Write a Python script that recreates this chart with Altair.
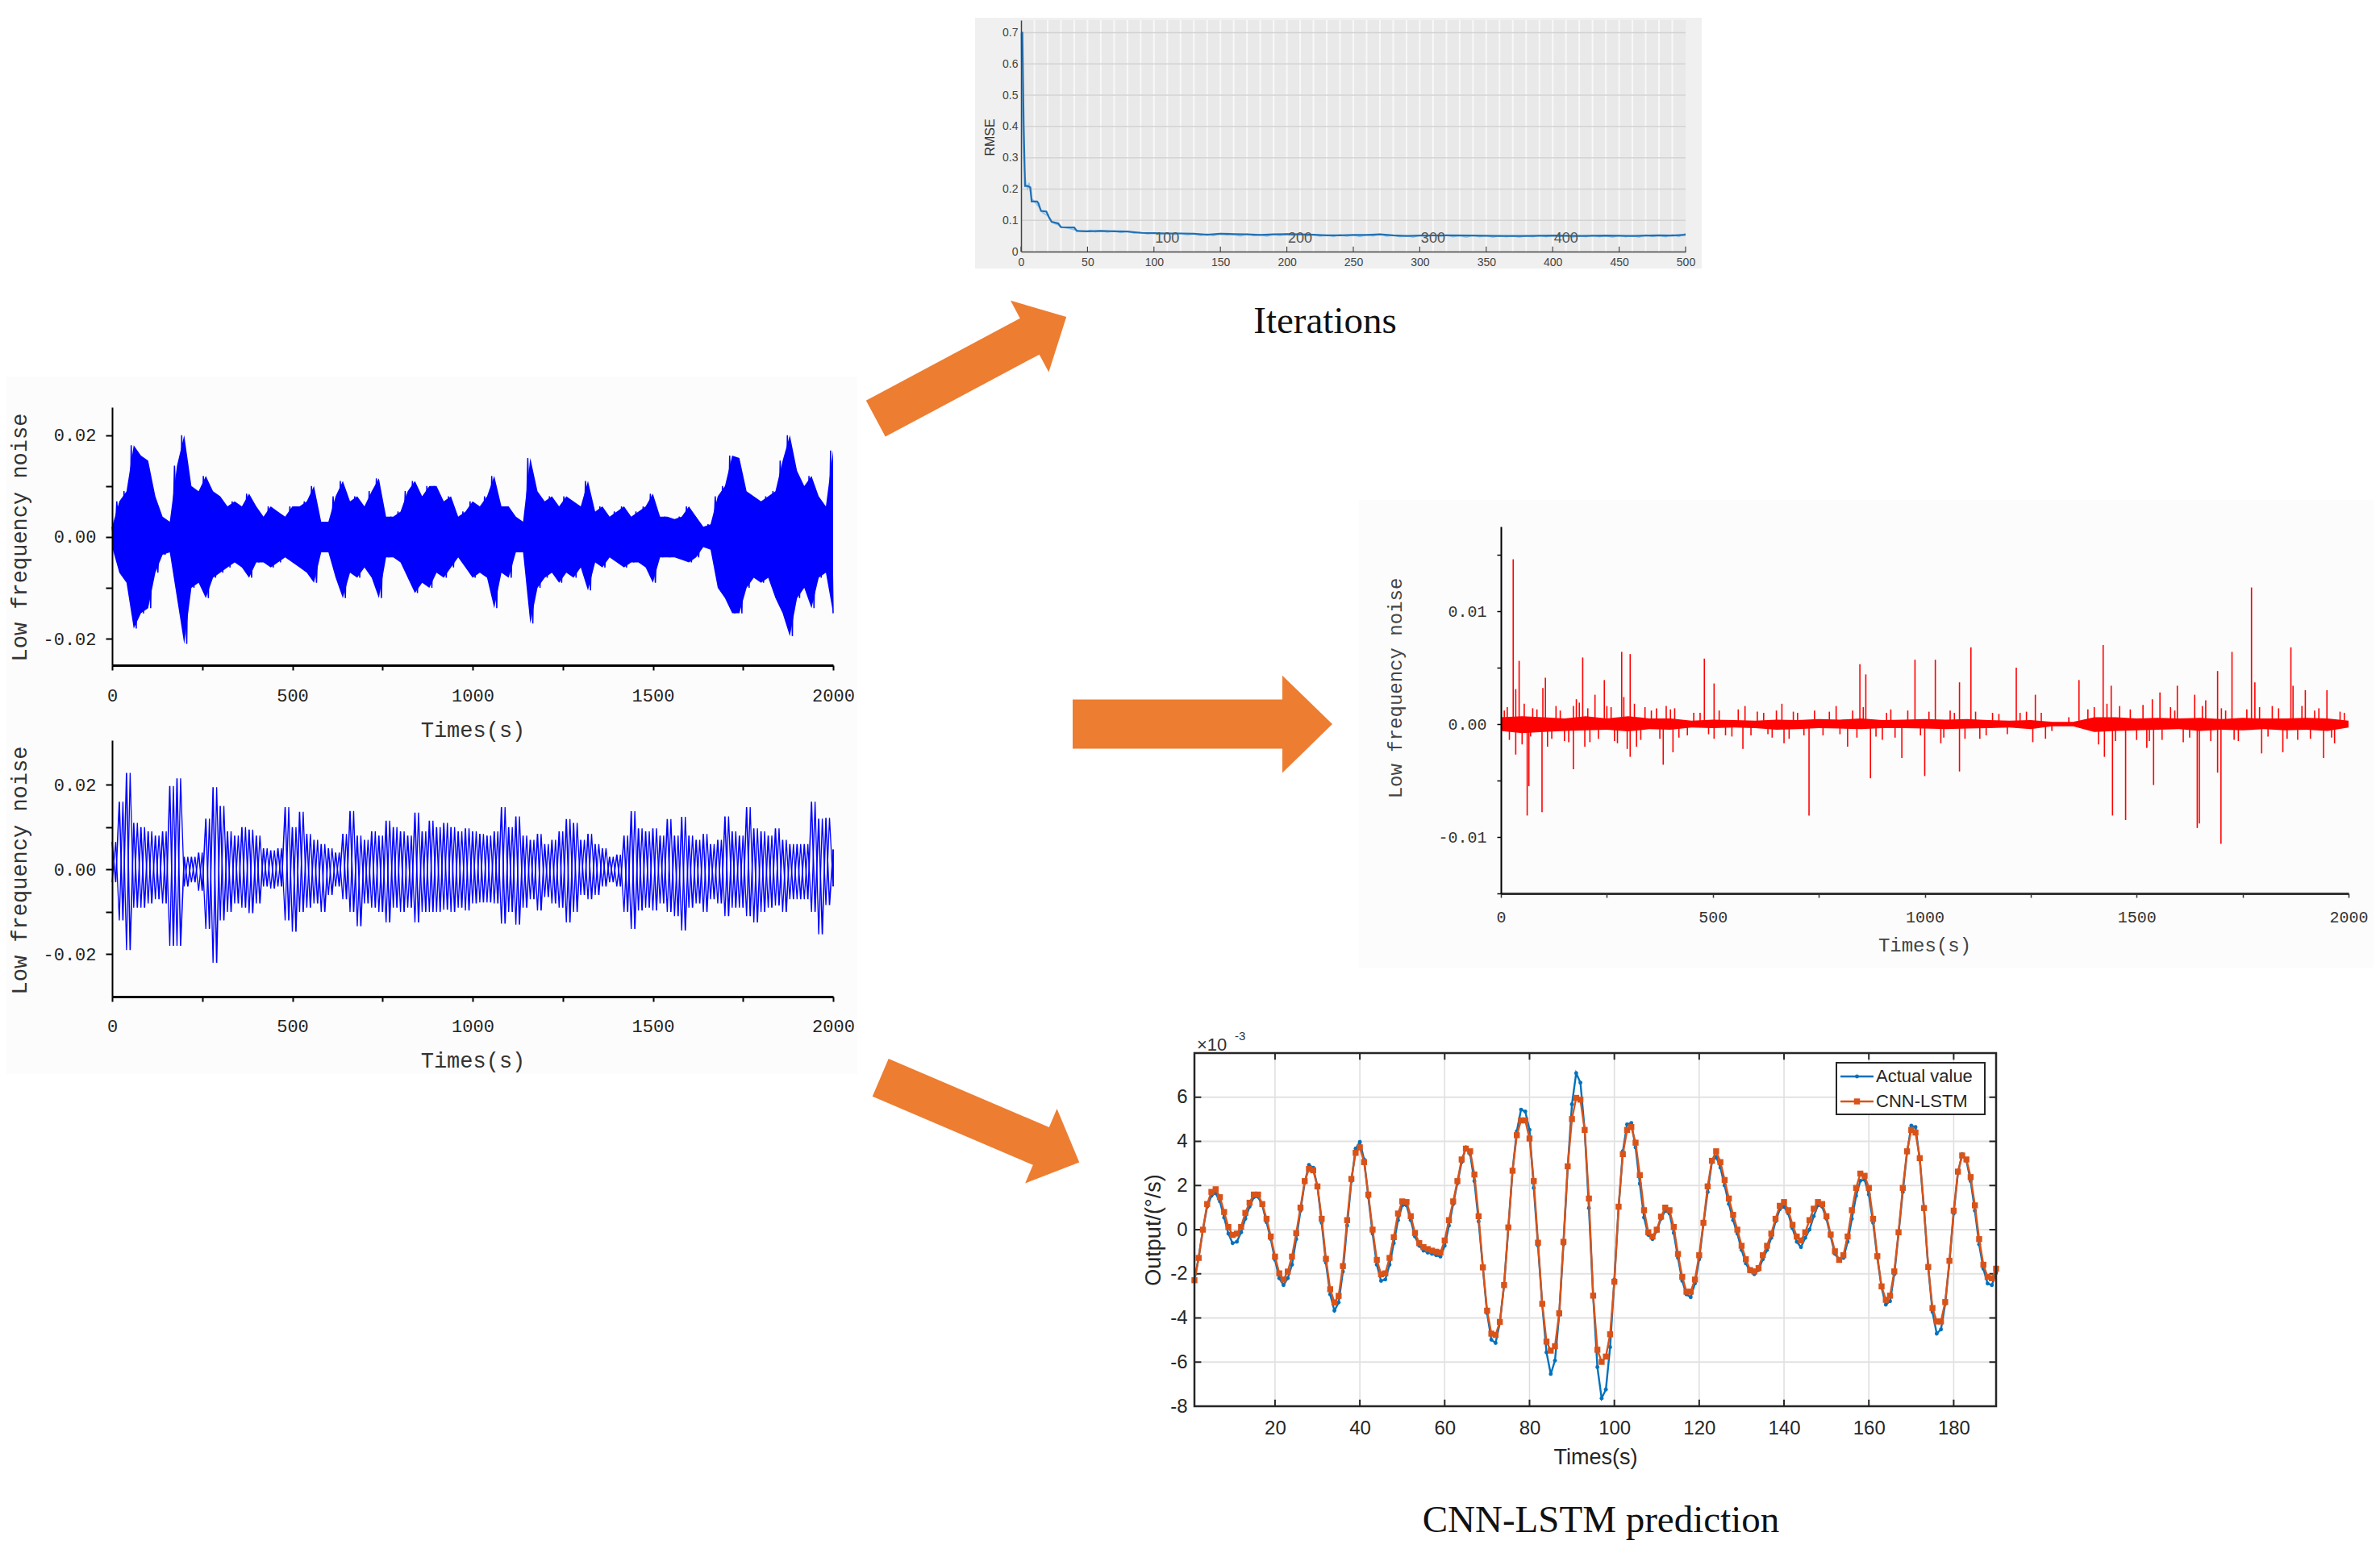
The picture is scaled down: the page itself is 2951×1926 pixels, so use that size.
import altair as alt
import pandas as pd

W, H = 2935, 1908

# ---------------- data ----------------
# Left panels: low-frequency noise (units of 1e-3), upper / lower envelope every 20 s
T20 = list(range(0, 2001, 20))
noise1_hi = [2, 7, 9, 18, 16, 15, 8, 4, 3, 14,
             20, 10, 9, 12, 9, 8, 6, 7, 6, 8.5,
             6, 4, 6, 5, 4, 6, 6, 7, 10, 3,
             3, 8, 11, 7, 8, 6, 9, 11.5, 4, 4,
             5, 9, 11, 8, 10, 10, 7, 8, 4, 5,
             7, 6, 8, 12, 6, 6, 4, 3, 15.5, 9,
             7, 8, 6, 8, 7, 6, 11, 5, 6, 4,
             5, 6, 4, 5, 6, 8.5, 4, 4, 3.5, 4,
             6, 4, 2, 2.5, 8, 10, 16, 15.5, 9, 8,
             7, 8, 9, 15, 20, 13, 10, 12, 8, 6,
             17]
noise1_lo = [-2, -7, -9, -18, -15, -14, -7, -3.5, -3, -12,
             -21, -10, -9, -12, -8, -7, -6, -5, -6, -8,
             -5, -5, -6, -5, -4, -5, -6, -7, -9, -3,
             -3, -8, -12, -7, -8, -6, -8, -12, -4, -4,
             -5, -8, -11, -9, -10, -7, -8, -6, -4, -6,
             -8, -7, -8, -14, -7, -8, -3, -3, -17, -10,
             -8, -7, -9, -7, -8, -6, -10.5, -5, -6, -4,
             -5, -6, -5, -5, -6, -9, -4, -4, -4, -4.5,
             -5, -4, -2, -2.5, -10, -12, -15, -15, -10, -8,
             -9, -8, -12, -15, -19.5, -12, -10, -14, -8, -7,
             -15]
noise2_hi = [6.5, 16, 22.8, 11, 10, 9, 8, 9, 19.7, 21.5,
             3, 3, 4, 12, 19.4, 15, 9, 8, 10, 9.4,
             8, 5, 4.5, 5, 14.7, 10, 13.6, 8.4, 7, 6,
             5, 4, 8.4, 13.8, 8, 7, 9, 8, 11.5, 10,
             9, 8, 13.4, 9, 11.5, 10, 11, 10, 9, 9.7,
             9, 8.4, 8, 9, 14.7, 10, 12.5, 8, 7, 8.4,
             6, 7, 9, 11.9, 11, 7, 8.4, 6, 5, 3,
             3.5, 8, 13.75, 9.7, 9, 9.7, 8, 11.9, 8, 12.4,
             8, 7, 8.4, 6, 7, 12.5, 9, 8, 14.7, 9.7,
             9, 8, 9.7, 7, 6, 6, 6, 16, 12, 12.2,
             4.7]
noise2_lo = [-3, -12, -19, -9, -9, -8, -7, -8, -18, -18,
             -4, -3, -5, -14, -22, -12, -10, -8, -9, -10.3,
             -8, -4, -4.5, -4, -12, -14.7, -10, -9, -8, -10,
             -6, -4, -7, -10, -13.4, -8, -9, -10, -12.5, -9,
             -10, -9, -12.5, -10, -10, -10, -9.5, -10, -9, -9.7,
             -8, -7.8, -7.8, -8, -12.8, -10, -13, -9, -7, -9.7,
             -6.5, -8, -9, -12.5, -10, -6, -7, -6, -4, -3,
             -4, -10, -14, -9.7, -9, -9.7, -8, -10, -11, -14.4,
             -9, -8, -10, -7, -8, -11, -9, -9, -11, -12.5,
             -10, -9, -8.5, -10, -7, -7, -7, -10, -15.3, -8.4,
             -4]

# Right panel: denoised low-frequency noise (1e-3): baseline band every 50 s + spikes
T50 = list(range(0, 2001, 50))
red_hi = [0.6, 0.7, 0.6, 0.5, 0.7, 0.5, 0.7, 0.5, 0.5, 0.3, 0.4, 0.35, 0.3, 0.4,
          0.35, 0.45, 0.4, 0.5, 0.35, 0.4, 0.45, 0.4, 0.45, 0.35, 0.3, 0.35, 0.2, 0.2,
          0.6, 0.6, 0.5, 0.55, 0.5, 0.55, 0.45, 0.55, 0.5, 0.5, 0.55, 0.5, 0.3]
red_lo = [-0.6, -0.8, -0.7, -0.6, -0.55, -0.5, -0.65, -0.45, -0.5, -0.3, -0.35, -0.3,
          -0.35, -0.5, -0.45, -0.35, -0.4, -0.45, -0.35, -0.35, -0.4, -0.45, -0.4, -0.35,
          -0.3, -0.45, -0.2, -0.2, -0.7, -0.6, -0.55, -0.5, -0.45, -0.6, -0.5, -0.55,
          -0.45, -0.55, -0.5, -0.6, -0.3]
red_spike_t = [29, 35, 43, 99, 105, 171, 193, 222, 244, 285, 305, 367, 480, 503, 576, 663,
               791, 847, 861, 977, 1025, 1082, 1109, 1216, 1261, 1364, 1421, 1440, 1537, 1555,
               1596, 1637, 1663, 1691, 1725, 1771, 1779, 1864, 1869, 1898, 1949,
               35, 62, 66, 97, 110, 171, 198, 305, 383, 406, 503, 571, 668, 727, 818, 872,
               946, 1000, 1038, 1082, 1285, 1424, 1443, 1474, 1524, 1540, 1643, 1648, 1691,
               1699, 1795, 1845, 1941, 1967,
               15, 50, 75, 130, 150, 185, 210, 260, 275, 320, 340, 400, 420, 455, 530, 620,
               640, 700, 760, 830, 900, 920, 1060, 1130, 1160, 1240, 1400, 1460, 1500, 1580,
               1610, 1700, 1740, 1820, 1880, 1920, 1980]
red_spike_v = [14.6, 3.1, 5.6, 3.2, 4.1, 1.6, 5.9, 2.6, 3.9, 6.4, 6.2, 1.4, 5.8, 3.6, 1.6, 1.8,
               1.6, 5.3, 4.4, 5.7, 5.7, 3.7, 6.8, 5.0, 2.6, 3.9, 7.0, 3.4, 2.2, 2.8,
               3.4, 2.6, 2.1, 4.7, 6.4, 12.1, 3.7, 6.8, 3.4, 3.0, 3.0,
               -2.7, -8.1, -5.5, -7.8, -2.0, -4.0, -2.0, -2.9, -3.6, -2.5, -1.3, -2.2, -1.7, -8.1,
               -2.0, -4.8, -3.0, -4.6, -1.7, -4.2, -1.3, -2.9, -8.1, -8.5, -2.1, -5.4, -9.2, -8.8,
               -4.3, -10.6, -2.6, -2.5, -3.0, -1.7,
               1.5, -1.8, 1.4, 1.6, -1.5, 1.9, -1.6, 1.5, -1.7, -2.0, 1.5, 1.3, -1.2, 1.0, -1.0,
               1.0, -1.2, 1.0, -1.0, 1.2, -1.4, 1.3, 1.2, -1.3, 1.0, 1.1, 1.5, 1.6, -1.4, 1.5,
               -1.6, 1.4, -1.5, 1.6, -1.4, 1.2, 1.1]
# small excursions of the red baseline
red_small_t = [8, 20, 55, 70, 85, 120, 140, 160, 178, 205, 230, 250, 268, 290, 298, 315, 330,
               355, 375, 390, 410, 440,
               470, 490, 515, 545, 560, 590, 605, 630, 650, 680, 690, 715, 740, 775, 800, 840,
               855, 885, 910, 930, 960, 990, 1010, 1045, 1070, 1095,
               1120, 1145, 1175, 1195, 1225, 1255, 1275, 1300, 1340,
               1385, 1410, 1430, 1450, 1485, 1515, 1530, 1560, 1590, 1625, 1655, 1675, 1710,
               1730, 1760, 1790, 1810, 1835, 1855, 1890, 1910, 1930, 1960, 1990]
red_small_v = [1.2, -1.4, 1.8, -1.1, 1.3, -1.3, 1.2, -1.6, 2.2, 1.4, -1.3, 1.6, -1.5, 2.4, -2.2,
               1.8, -1.4, 1.2, -1.3, 1.6, 1.4, -1.0,
               1.0, -0.9, 1.2, -1.1, 1.3, -1.0, 1.1, -0.9, 1.2, -1.3, 1.1, -1.0, 1.2, 1.1, -0.9,
               -1.2, 1.5, -1.1, 1.0, -1.2, 1.2, -1.0, 1.1, -1.2, 1.0, -1.3,
               1.1, -1.0, 0.9, -0.9, 1.0, -1.6, 1.0, -0.6, 0.6,
               1.3, -1.8, 1.8, -1.5, 1.3, 1.7, -1.5, -1.4, 1.2, -1.2, 1.6, -1.5, 1.2,
               -1.4, 1.3, 1.5, -1.1, 1.4, -1.3, 1.6, -1.3, 1.4, -1.2, 1.0]

# CNN-LSTM prediction panel (1e-3 deg/s)
cnn_t = list(range(1, 191))
cnn_actual = [-2.3, -1.25, 0.0, 1.04, 1.53, 1.65, 1.28, 0.55, -0.18, -0.61,
              -0.55, -0.12, 0.49, 1.04, 1.47, 1.49, 1.1, 0.34, -0.43, -1.37,
              -2.2, -2.51, -2.2, -1.59, -0.43, 0.86, 2.14, 2.93, 2.81, 1.96,
              0.31, -1.5, -2.93, -3.67, -3.3, -1.9, 0.18, 2.2, 3.67, 3.97,
              3.18, 1.47, -0.18, -1.59, -2.32, -2.26, -1.59, -0.61, 0.43, 1.1,
              1.1, 0.43, -0.31, -0.73, -0.95, -1.04, -1.1, -1.16, -1.22, -0.73,
              0.18, 1.16, 2.1, 3.06, 3.73, 3.42, 2.2, 0.37, -1.71, -3.79,
              -4.99, -5.13, -4.22, -2.51, 0.06, 2.69, 4.46, 5.44, 5.35, 4.52,
              1.89, -0.73, -3.4, -5.56, -6.54, -5.93, -3.85, -0.67, 2.81, 5.68,
              7.09, 6.66, 4.52, 0.98, -2.99, -6.23, -7.64, -7.24, -5.32, -2.26,
              0.98, 3.55, 4.77, 4.83, 3.73, 2.08, 0.55, -0.24, -0.43, -0.06,
              0.49, 0.86, 0.73, -0.15, -1.28, -2.32, -2.93, -3.06, -2.44, -1.34,
              0.24, 1.71, 3.06, 3.3, 2.81, 2.0, 1.16, 0.43, -0.18, -0.92,
              -1.53, -1.89, -2.02, -1.83, -1.34, -0.92, -0.37, 0.37, 0.92, 1.04,
              0.73, 0.06, -0.55, -0.79, -0.37, 0.0, 0.61, 1.1, 1.04, 0.49,
              -0.31, -1.1, -1.37, -1.28, -0.55, 0.49, 1.53, 2.22, 2.26, 1.59,
              0.31, -1.28, -2.63, -3.4, -3.24, -2.02, -0.18, 1.71, 3.48, 4.71,
              4.65, 3.18, 0.92, -1.71, -3.73, -4.71, -4.52, -3.36, -1.47, 0.73,
              2.57, 3.42, 3.12, 2.2, 0.86, -0.67, -1.77, -2.44, -2.51, -1.96]
cnn_pred = [-2.29, -1.28, 0.0, 1.16, 1.71, 1.83, 1.47, 0.8, 0.12, -0.24,
            -0.18, 0.12, 0.76, 1.22, 1.59, 1.59, 1.16, 0.49, -0.31, -1.22,
            -1.98, -2.26, -1.9, -1.22, -0.16, 1.0, 2.2, 2.75, 2.69, 1.96,
            0.49, -1.32, -2.7, -3.3, -3.0, -1.65, 0.43, 2.3, 3.48, 3.73,
            3.06, 1.59, 0.0, -1.37, -2.02, -1.98, -1.28, -0.34, 0.73, 1.28,
            1.25, 0.61, -0.15, -0.61, -0.79, -0.88, -0.95, -1.0, -1.04, -0.49,
            0.43, 1.28, 2.2, 3.18, 3.67, 3.55, 2.5, 0.61, -1.71, -3.67,
            -4.71, -4.77, -4.18, -2.51, 0.1, 2.67, 4.28, 4.95, 4.95, 4.13,
            2.2, -0.59, -3.36, -5.07, -5.48, -5.28, -3.79, -0.55, 2.87, 5.01,
            5.97, 5.89, 4.52, 1.41, -2.99, -5.44, -5.99, -5.75, -4.74, -2.36,
            1.04, 3.42, 4.52, 4.65, 3.94, 2.47, 0.88, -0.12, -0.31, 0.0,
            0.59, 1.0, 0.88, 0.12, -1.1, -2.14, -2.81, -2.81, -2.26, -1.16,
            0.31, 1.96, 3.12, 3.55, 3.06, 2.25, 1.41, 0.67, 0.0, -0.73,
            -1.34, -1.83, -1.89, -1.74, -1.16, -0.73, -0.18, 0.49, 1.08, 1.25,
            0.88, 0.22, -0.31, -0.49, -0.12, 0.43, 0.95, 1.25, 1.16, 0.61,
            -0.22, -0.98, -1.37, -1.16, -0.31, 0.88, 1.89, 2.54, 2.44, 1.89,
            0.49, -1.2, -2.57, -3.18, -2.99, -1.89, -0.12, 1.89, 3.55, 4.52,
            4.4, 3.24, 0.98, -1.69, -3.55, -4.16, -4.16, -3.28, -1.41, 0.86,
            2.63, 3.36, 3.18, 2.38, 1.1, -0.43, -1.59, -2.14, -2.2, -1.77]

# Training RMSE panel
rmse_it = [0, 1, 2, 3, 5, 7, 8, 12, 13, 15, 19, 21, 23, 28, 30, 40, 42, 50, 60, 70,
           80, 90, 100, 110, 120, 130, 140, 150, 160, 170, 180, 190, 200, 210, 220, 230,
           240, 250, 260, 270, 280, 290, 300, 320, 340, 360, 380, 400, 420, 440, 460, 480,
           490, 500]
rmse_smooth = [0.70, 0.70, 0.40, 0.21, 0.21, 0.205, 0.16, 0.16, 0.155, 0.13,
               0.128, 0.11, 0.095, 0.09, 0.078, 0.077, 0.066, 0.065, 0.066, 0.065,
               0.064, 0.060, 0.059, 0.058, 0.058, 0.057, 0.054, 0.057, 0.056, 0.055,
               0.053, 0.055, 0.056, 0.055, 0.054, 0.052, 0.052, 0.053, 0.053, 0.055,
               0.052, 0.050, 0.051, 0.052, 0.051, 0.050, 0.050, 0.051, 0.050, 0.051,
               0.050, 0.052, 0.051, 0.054]
rmse_raw_it = [0, 1, 2, 3, 4, 5, 6, 7, 8, 9, 10, 12, 14, 16, 18, 20, 22, 24, 26, 28, 30, 33,
               36, 40, 44, 48, 52, 56, 60, 65, 70, 75, 80, 85, 90, 95] + list(range(100, 501, 5))
rmse_raw = [0.70, 0.45, 0.30, 0.24, 0.21, 0.20, 0.22, 0.19, 0.17, 0.165,
            0.16, 0.15, 0.14, 0.125, 0.12, 0.115, 0.10, 0.092, 0.088, 0.085,
            0.08, 0.076, 0.074, 0.07, 0.066, 0.064, 0.068, 0.063, 0.067, 0.062,
            0.066, 0.061, 0.065, 0.059, 0.062, 0.056,
            0.060, 0.055, 0.059, 0.054, 0.058, 0.053, 0.057, 0.052, 0.056, 0.051,
            0.058, 0.053, 0.055, 0.050, 0.056, 0.051, 0.054, 0.049, 0.055, 0.052,
            0.057, 0.051, 0.056, 0.050, 0.055, 0.049, 0.053, 0.048, 0.054, 0.049,
            0.053, 0.048, 0.054, 0.050, 0.056, 0.049, 0.052, 0.047, 0.051, 0.046,
            0.052, 0.047, 0.053, 0.048, 0.052, 0.047, 0.051, 0.046, 0.052, 0.047,
            0.051, 0.046, 0.051, 0.047, 0.050, 0.046, 0.051, 0.047, 0.052, 0.047,
            0.052, 0.048, 0.051, 0.046, 0.051, 0.047, 0.052, 0.047, 0.051, 0.046,
            0.052, 0.047, 0.051, 0.046, 0.053, 0.048, 0.052, 0.047, 0.054, 0.048,
            0.058]
epoch_it = [110, 210, 310, 410]
epoch_lbl = ["100", "200", "300", "400"]

assert len(noise1_hi) == len(T20) == len(noise1_lo) == len(noise2_hi) == len(noise2_lo)
assert len(red_hi) == len(T50) == len(red_lo)
assert len(red_spike_t) == len(red_spike_v)
assert len(red_small_t) == len(red_small_v)
assert len(cnn_actual) == len(cnn_t) == len(cnn_pred)
assert len(rmse_it) == len(rmse_smooth)
assert len(rmse_raw_it) == len(rmse_raw)

# ---------------- helpers ----------------
def sc(domain, rng):
    return alt.Scale(domain=domain, range=rng, nice=False, zero=False)

def ax(**kw):
    base = dict(zindex=1, grid=False, labelFlush=False, labelOverlap=False,
                titleFontWeight="normal")
    base.update(kw)
    return alt.Axis(**base)

CXS = sc([0, W], [0, W])
CYS = sc([0, H], [0, H])

def cx(f="x"):
    return alt.X(f, type="quantitative", scale=CXS, axis=None)

def cy(f="y"):
    return alt.Y(f, type="quantitative", scale=CYS, axis=None)

layers = []

# ---------------- faint panel backgrounds ----------------
panels = pd.DataFrame({"x": [0, 1677], "x2": [1055, 2935], "y": [459, 612], "y2": [1324, 1192]})
layers.append(alt.Chart(panels).mark_rect(color="#fcfcfc").encode(
    x=cx(), x2="x2:Q", y=cy(), y2="y2:Q"))
rmse_box = pd.DataFrame({"x": [1201], "x2": [2102], "y": [14], "y2": [325]})
layers.append(alt.Chart(rmse_box).mark_rect(color="#f0f0f0").encode(
    x=cx(), x2="x2:Q", y=cy(), y2="y2:Q"))

# ---------------- RMSE panel ----------------
RX = sc([0, 500], [1258, 2082])
RY = sc([0, 0.74], [304, 17])
rarea = pd.DataFrame({"x": [0], "x2": [500], "y": [0], "y2": [0.74]})
layers.append(alt.Chart(rarea).mark_rect(color="#e9e9e9").encode(
    x=alt.X("x:Q", scale=RX, axis=None), x2="x2:Q",
    y=alt.Y("y:Q", scale=RY, axis=None), y2="y2:Q"))
vgrid = pd.DataFrame({"x": list(range(10, 500, 10)), "y": 0.0, "y2": 0.74})
layers.append(alt.Chart(vgrid).mark_rule(color="#f8f8f8", strokeWidth=2).encode(
    x=alt.X("x:Q", scale=RX, axis=None), y=alt.Y("y:Q", scale=RY, axis=None), y2="y2:Q"))
hgrid = pd.DataFrame({"y": [0.1, 0.2, 0.3, 0.4, 0.5, 0.6, 0.7], "x": 0, "x2": 500})
layers.append(alt.Chart(hgrid).mark_rule(color="#d3d3d3", strokeWidth=1.5).encode(
    x=alt.X("x:Q", scale=RX, axis=None), x2="x2:Q", y=alt.Y("y:Q", scale=RY, axis=None)))
rtx = pd.DataFrame({"x": list(range(0, 501, 50)), "y": 0.0, "y2": 0.016})
layers.append(alt.Chart(rtx).mark_rule(color="#444444", strokeWidth=1.2).encode(
    x=alt.X("x:Q", scale=RX, axis=None), y=alt.Y("y:Q", scale=RY, axis=None), y2="y2:Q"))
raw_df = pd.DataFrame({"it": rmse_raw_it, "v": rmse_raw})
layers.append(alt.Chart(raw_df).mark_line(color="#8cc4ee", strokeWidth=1.6).encode(
    x=alt.X("it:Q", scale=RX, axis=None), y=alt.Y("v:Q", scale=RY, axis=None)))
sm_df = pd.DataFrame({"it": rmse_it, "v": rmse_smooth})
layers.append(alt.Chart(sm_df).mark_line(color="#2170b3", strokeWidth=2.2).encode(
    x=alt.X("it:Q", scale=RX, axis=ax(
        orient="bottom", offset=304 - H, values=list(range(0, 501, 50)), format="d",
        ticks=False, domainColor="#444444", domainWidth=1.5, labelPadding=13,
        labelBaseline="middle", labelFont="Liberation Sans", labelFontSize=14,
        labelColor="#444444", title=None)),
    y=alt.Y("v:Q", scale=RY, axis=ax(
        orient="left", offset=-1258, values=[0, 0.1, 0.2, 0.3, 0.4, 0.5, 0.6, 0.7],
        labelExpr="datum.value == 0 ? '0' : format(datum.value, '.1f')",
        ticks=False, domainColor="#444444", domainWidth=1.5, labelPadding=4,
        labelFont="Liberation Sans", labelFontSize=14, labelColor="#444444",
        title="RMSE", titleFont="Liberation Sans", titleFontSize=16, titleColor="#333333",
        titleX=-39, titleY=162, titleAngle=270, titleBaseline="middle", titleAlign="center"))))
ep_df = pd.DataFrame({"x": epoch_it, "y": 0.04, "t": epoch_lbl})
layers.append(alt.Chart(ep_df).mark_text(font="Liberation Sans", fontSize=18, color="#555555",
                                         baseline="middle").encode(
    x=alt.X("x:Q", scale=RX, axis=None), y=alt.Y("y:Q", scale=RY, axis=None), text="t:N"))

# ---------------- left noise panels ----------------
NX = sc([0, 2000], [131, 1025])
P1Y = sc([-25.2, 25.5], [817, 497])
P2Y = sc([-30, 30.5], [1228, 910])
lab_x = "datum.value % 500 == 0 ? format(datum.value, 'd') : ''"
lab_y = "datum.value % 20 == 0 ? (datum.value < 0 ? '-' : '') + format(abs(datum.value) / 1000, '.2f') : ''"
mono = "Liberation Mono"

def left_axes(axis_y, ycenter, label_pad, title_dy):
    xa = ax(orient="bottom", offset=axis_y - H, values=list(range(0, 2001, 250)), labelExpr=lab_x,
            domainColor="black", domainWidth=3, tickColor="black", tickWidth=2, tickSize=6,
            labelPadding=label_pad, labelBaseline="middle", labelFont=mono, labelFontSize=22,
            labelColor="#222222", title="Times(s)", titleFont=mono, titleFontSize=27,
            titleColor="#333333", titleX=578, titleY=title_dy, titleBaseline="middle",
            titleAlign="center")
    ya = ax(orient="left", offset=-131, values=[-20, -10, 0, 10, 20], labelExpr=lab_y,
            domainColor="black", domainWidth=2, tickColor="black", tickWidth=2, tickSize=8,
            labelPadding=12, labelFont=mono, labelFontSize=22, labelColor="#222222",
            title="Low frequency noise", titleFont=mono, titleFontSize=27, titleColor="#333333",
            titleX=-115, titleY=ycenter, titleAngle=270, titleBaseline="middle",
            titleAlign="center")
    return xa, ya

# panel 1: filled envelope plus a zig-zag trace through the same readings
xa1, ya1 = left_axes(817, 658, 31, 80)
p1_df = pd.DataFrame({"t": T20, "hi": noise1_hi, "lo": noise1_lo})
layers.append(alt.Chart(p1_df).mark_area(color="#0000ff", opacity=1).encode(
    x=alt.X("t:Q", scale=NX, axis=xa1), y=alt.Y("lo:Q", scale=P1Y, axis=ya1), y2="hi:Q"))
z1t, z1v, z1i = [], [], []
for i, t in enumerate(T20):
    z1t += [max(t - 7, 0), min(t + 7, 2000)]
    z1v += [noise1_hi[i], noise1_lo[i]]
    z1i += [2 * i, 2 * i + 1]
z1_df = pd.DataFrame({"t": z1t, "v": z1v, "i": z1i})
layers.append(alt.Chart(z1_df).mark_line(color="#0000ff", strokeWidth=1.5).encode(
    x=alt.X("t:Q", scale=NX, axis=None), y=alt.Y("v:Q", scale=P1Y, axis=None),
    order=alt.Order("i:Q")))

# panel 2: two interleaved zig-zag traces through the envelope readings
xa2, ya2 = left_axes(1228, 1071, 30, 79)
zt, zv, zi, zt2, zv2 = [], [], [], [], []
for i, t in enumerate(T20):
    zt += [t, min(t + 10, 2000)]
    zv += [noise2_hi[i], noise2_lo[i]]
    zi += [2 * i, 2 * i + 1]
    zt2 += [t, min(t + 10, 2000)]
    zv2 += [noise2_lo[i], noise2_hi[i]]
p2_df = pd.DataFrame({"t": zt, "v": zv, "i": zi})
p2b_df = pd.DataFrame({"t": zt2, "v": zv2, "i": zi})
layers.append(alt.Chart(p2_df).mark_line(color="#0000ff", strokeWidth=1.6).encode(
    x=alt.X("t:Q", scale=NX, axis=xa2), y=alt.Y("v:Q", scale=P2Y, axis=ya2),
    order=alt.Order("i:Q")))
layers.append(alt.Chart(p2b_df).mark_line(color="#0000ff", strokeWidth=1.3).encode(
    x=alt.X("t:Q", scale=NX, axis=None), y=alt.Y("v:Q", scale=P2Y, axis=None),
    order=alt.Order("i:Q")))

# ---------------- right red panel ----------------
RDX = sc([0, 2000], [1853, 2904])
RDY = sc([-15, 17.5], [1100, 645])
lab_r = "datum.value % 10 == 0 ? (datum.value < 0 ? '-' : '') + format(abs(datum.value) / 1000, '.2f') : ''"
band_df = pd.DataFrame({"t": T50, "hi": red_hi, "lo": red_lo})
layers.append(alt.Chart(band_df).mark_area(color="#ff0000", opacity=1).encode(
    x=alt.X("t:Q", scale=RDX, axis=ax(
        orient="bottom", offset=1100 - H, values=list(range(0, 2001, 250)), labelExpr=lab_x,
        domainColor="#333333", domainWidth=3, tickColor="#333333", tickWidth=1.5, tickSize=5,
        labelPadding=24, labelBaseline="middle", labelFont=mono, labelFontSize=20,
        labelColor="#333333", title="Times(s)", titleFont=mono, titleFontSize=24,
        titleColor="#444444", titleX=2378, titleY=64, titleBaseline="middle", titleAlign="center")),
    y=alt.Y("lo:Q", scale=RDY, axis=ax(
        orient="left", offset=-1853, values=[-15, -10, -5, 0, 5, 10, 15], labelExpr=lab_r,
        domainColor="black", domainWidth=2, tickColor="black", tickWidth=1.5, tickSize=5,
        labelPadding=13, labelFont=mono, labelFontSize=20, labelColor="#333333",
        title="Low frequency noise", titleFont=mono, titleFontSize=24, titleColor="#444444",
        titleX=-131, titleY=845, titleAngle=270, titleBaseline="middle", titleAlign="center")),
    y2="hi:Q"))
sp_df = pd.DataFrame({"t": red_spike_t + red_small_t, "v": red_spike_v + red_small_v, "z": 0.0})
layers.append(alt.Chart(sp_df).mark_rule(color="#ff0000", strokeWidth=1.6).encode(
    x=alt.X("t:Q", scale=RDX, axis=None), y=alt.Y("z:Q", scale=RDY, axis=None), y2="v:Q"))

# ---------------- CNN-LSTM panel ----------------
CX4 = sc([1, 190], [1473, 2467])
CY4 = sc([-8, 8], [1736, 1298])
gx = list(range(20, 181, 20))
gy = list(range(-6, 7, 2))
g1 = pd.DataFrame({"x": gx, "y": -8, "y2": 8})
layers.append(alt.Chart(g1).mark_rule(color="#dedede", strokeWidth=1.5).encode(
    x=alt.X("x:Q", scale=CX4, axis=None), y=alt.Y("y:Q", scale=CY4, axis=None), y2="y2:Q"))
g2 = pd.DataFrame({"y": gy, "x": 1, "x2": 190})
layers.append(alt.Chart(g2).mark_rule(color="#e2e2e2", strokeWidth=2).encode(
    x=alt.X("x:Q", scale=CX4, axis=None), x2="x2:Q", y=alt.Y("y:Q", scale=CY4, axis=None)))
tk1 = pd.DataFrame({"x": gx * 2, "y": [-8] * len(gx) + [8] * len(gx),
                    "y2": [-7.7] * len(gx) + [7.7] * len(gx)})
layers.append(alt.Chart(tk1).mark_rule(color="#262626", strokeWidth=2).encode(
    x=alt.X("x:Q", scale=CX4, axis=None), y=alt.Y("y:Q", scale=CY4, axis=None), y2="y2:Q"))
tk2 = pd.DataFrame({"y": gy * 2, "x": [1] * len(gy) + [190] * len(gy),
                    "x2": [2.6] * len(gy) + [188.4] * len(gy)})
layers.append(alt.Chart(tk2).mark_rule(color="#262626", strokeWidth=2).encode(
    x=alt.X("x:Q", scale=CX4, axis=None), x2="x2:Q", y=alt.Y("y:Q", scale=CY4, axis=None)))

sans = "Liberation Sans"
lab_c = "datum.value < 0 ? '-' + format(abs(datum.value), 'd') : format(datum.value, 'd')"
act_df = pd.DataFrame({"t": cnn_t, "v": cnn_actual})
pred_df = pd.DataFrame({"t": cnn_t, "v": cnn_pred})
layers.append(alt.Chart(act_df).mark_line(color="#0072BD", strokeWidth=2.4).encode(
    x=alt.X("t:Q", scale=CX4, axis=ax(
        orient="bottom", offset=1736 - H, values=gx, format="d", ticks=False, domain=False,
        labelPadding=27, labelBaseline="middle", labelFont=sans, labelFontSize=24,
        labelColor="#262626", title="Times(s)", titleFont=sans, titleFontSize=27,
        titleColor="#262626", titleX=1970, titleY=63, titleBaseline="middle", titleAlign="center")),
    y=alt.Y("v:Q", scale=CY4, axis=ax(
        orient="left", offset=-1473, values=[-8, -6, -4, -2, 0, 2, 4, 6], labelExpr=lab_c,
        ticks=False, domain=False, labelPadding=9, labelFont=sans, labelFontSize=24,
        labelColor="#262626", title="Output/(°/s)", titleFont=sans, titleFontSize=27,
        titleColor="#262626", titleX=-51, titleY=1517, titleAngle=270, titleBaseline="middle",
        titleAlign="center"))))
layers.append(alt.Chart(act_df).mark_point(color="#0072BD", filled=True, opacity=1, size=24,
                                           shape="circle").encode(
    x=alt.X("t:Q", scale=CX4, axis=None), y=alt.Y("v:Q", scale=CY4, axis=None)))
layers.append(alt.Chart(pred_df).mark_line(color="#D95319", strokeWidth=2.4).encode(
    x=alt.X("t:Q", scale=CX4, axis=None), y=alt.Y("v:Q", scale=CY4, axis=None)))
layers.append(alt.Chart(pred_df).mark_point(color="#D95319", filled=True, opacity=1, size=55,
                                            shape="square").encode(
    x=alt.X("t:Q", scale=CX4, axis=None), y=alt.Y("v:Q", scale=CY4, axis=None)))
box = pd.DataFrame({"x": [1], "x2": [190], "y": [-8], "y2": [8]})
layers.append(alt.Chart(box).mark_rect(fillOpacity=0, stroke="#262626", strokeWidth=2.5).encode(
    x=alt.X("x:Q", scale=CX4, axis=None), x2="x2:Q",
    y=alt.Y("y:Q", scale=CY4, axis=None), y2="y2:Q"))

# ---------------- legend of the CNN-LSTM panel ----------------
leg_box = pd.DataFrame({"x": [2269], "x2": [2453], "y": [1310], "y2": [1374]})
layers.append(alt.Chart(leg_box).mark_rect(color="white", stroke="#262626", strokeWidth=2).encode(
    x=cx(), x2="x2:Q", y=cy(), y2="y2:Q"))
leg_blue = pd.DataFrame({"x": [2274], "x2": [2315], "y": [1327], "m": [2294.5]})
leg_oran = pd.DataFrame({"x": [2274], "x2": [2315], "y": [1358], "m": [2294.5]})
layers.append(alt.Chart(leg_blue).mark_rule(color="#0072BD", strokeWidth=2.4).encode(
    x=cx(), x2="x2:Q", y=cy()))
layers.append(alt.Chart(leg_blue).mark_point(color="#0072BD", filled=True, opacity=1, size=24,
                                             shape="circle").encode(x=cx("m"), y=cy()))
layers.append(alt.Chart(leg_oran).mark_rule(color="#D95319", strokeWidth=2.4).encode(
    x=cx(), x2="x2:Q", y=cy()))
layers.append(alt.Chart(leg_oran).mark_point(color="#D95319", filled=True, opacity=1, size=55,
                                             shape="square").encode(x=cx("m"), y=cy()))
leg_txt = pd.DataFrame({"x": [2318, 2318], "y": [1327, 1358], "t": ["Actual value", "CNN-LSTM"]})
layers.append(alt.Chart(leg_txt).mark_text(font=sans, fontSize=22, color="#262626", align="left",
                                           baseline="middle").encode(x=cx(), y=cy(), text="t:N"))
exp_big = pd.DataFrame({"x": [1476], "y": [1288], "t": ["×10"]})
exp_small = pd.DataFrame({"x": [1523], "y": [1277], "t": ["-3"]})
layers.append(alt.Chart(exp_big).mark_text(font=sans, fontSize=22, color="#333333", align="left",
                                           baseline="middle").encode(x=cx(), y=cy(), text="t:N"))
layers.append(alt.Chart(exp_small).mark_text(font=sans, fontSize=15, color="#333333", align="left",
                                             baseline="middle").encode(x=cx(), y=cy(), text="t:N"))

# ---------------- arrows ----------------
ARROW = "M-1,-0.19 L0.615,-0.19 L0.615,-0.375 L1,0 L0.615,0.375 L0.615,0.19 L-1,0.19 Z"
arrows = pd.DataFrame({"x": [1196, 1483, 1207], "y": [448, 890, 1381],
                       "ang": [331.9, 0, 23.1], "sz": [71824, 103684, 71824]})
layers.append(alt.Chart(arrows).mark_point(shape=ARROW, filled=True, opacity=1,
                                           color="#ED7D31").encode(
    x=cx(), y=cy(), angle=alt.Angle("ang:Q", scale=None), size=alt.Size("sz:Q", scale=None)))

# ---------------- captions ----------------
caps = pd.DataFrame({"x": [1635, 1977], "y": [391, 1878], "t": ["Iterations", "CNN-LSTM prediction"]})
layers.append(alt.Chart(caps).mark_text(font="Liberation Serif", fontSize=47, color="#111111",
                                        align="center", baseline="middle").encode(
    x=cx(), y=cy(), text="t:N"))

chart = alt.layer(*layers).resolve_scale(x="independent", y="independent").properties(
    width=W, height=H, autosize=alt.AutoSizeParams(type="none"), padding=0
).configure_view(strokeWidth=0)

chart.save("out.html", embed_options={"renderer": "svg", "actions": False})
